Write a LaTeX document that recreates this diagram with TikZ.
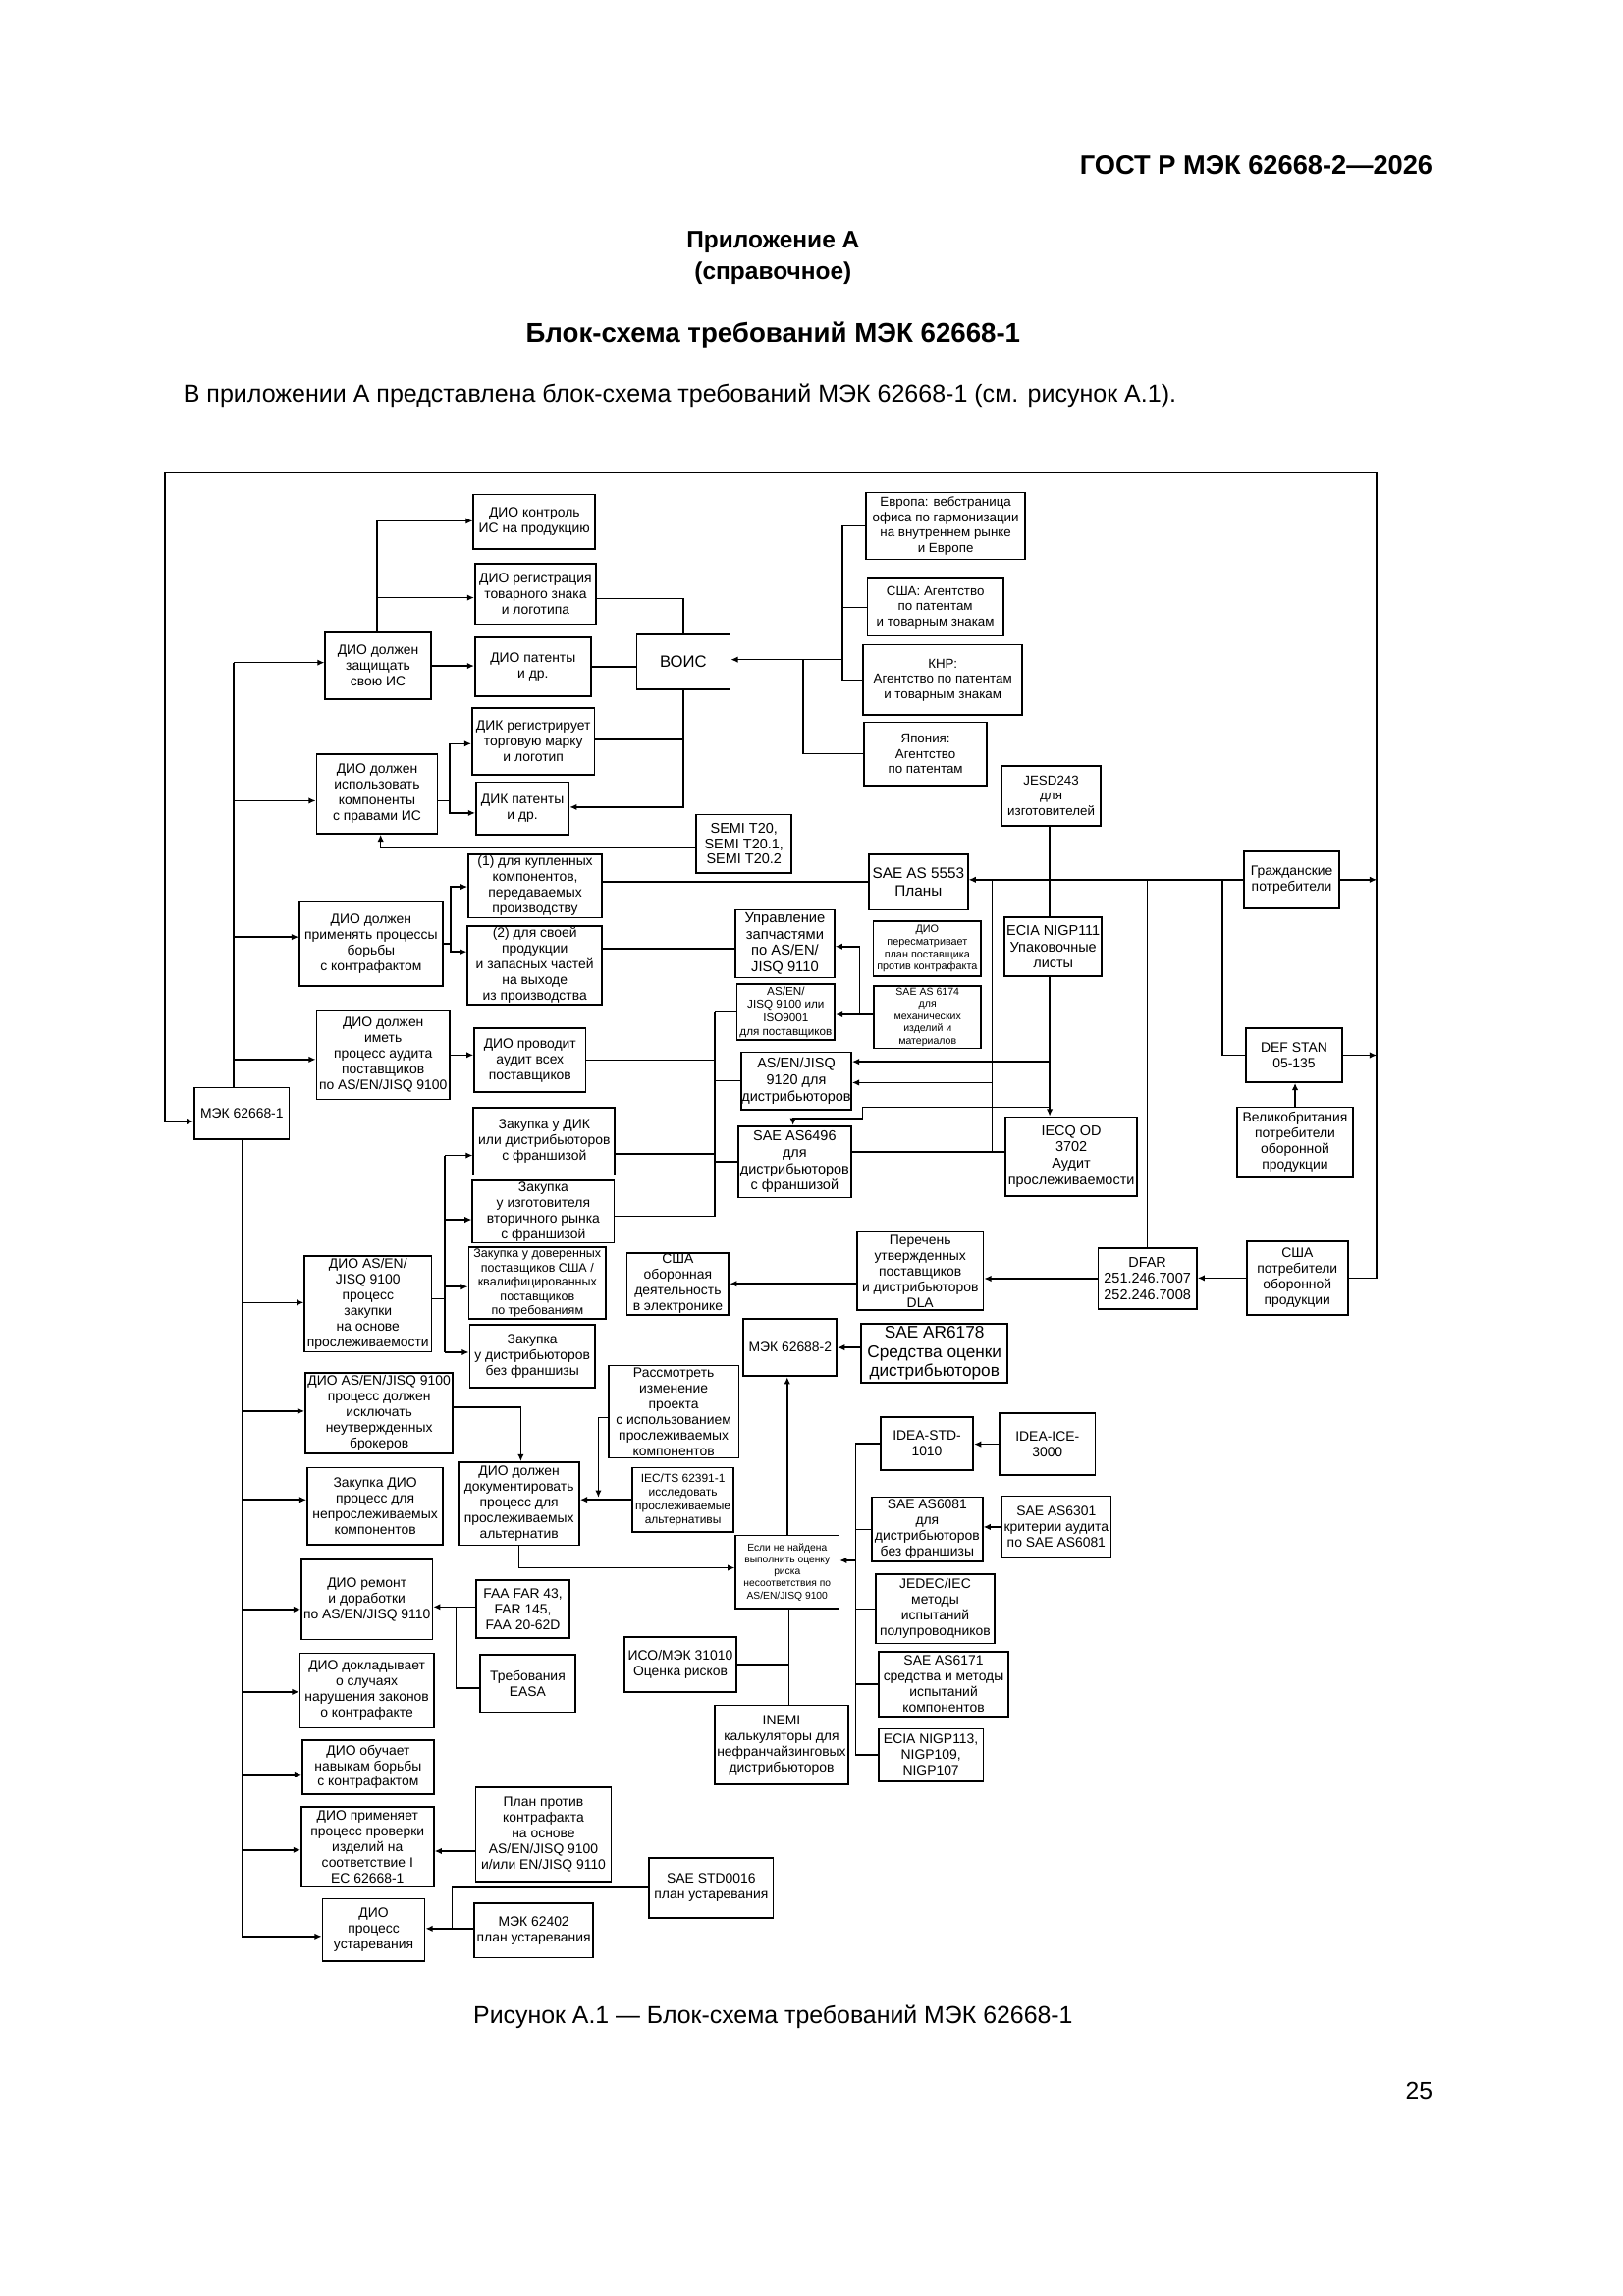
\documentclass[tikz,border=0pt]{standalone}
\usepackage{fontspec}
\setmainfont{Liberation Sans}
\usetikzlibrary{arrows.meta}
\newcommand\fs[2]{\fontsize{#1pt}{#2pt}\selectfont}
\newcommand\BX[7][]{\node[box,#1,minimum width={(#5-#3)*0.5405pt},minimum height={(#6-#4)*0.5405pt}] (#2) at ({(#3+#5)/2},{(#4+#6)/2}) {#7};}
\tikzset{
  box/.style={draw,line width=0.6pt,inner sep=0pt,align=center,font=\fs{5}{5.75}},
  ptxt/.style={inner sep=0pt,align=center},
  ln/.style={line width=0.55pt},
  arr/.style={ln,-{Latex[length=2.6pt,width=2.3pt]}},
}
\begin{document}
\begin{tikzpicture}[x=0.5405pt,y=-0.5405pt]
\useasboundingbox[fill=white] (0,0) rectangle (1100,1556);
% ---------- page texts
\node[ptxt,anchor=east,font=\bfseries\fs{9.8}{12}] (hdr) at (971.5,111.6) {ГОСТ Р МЭК 62668-2—2026};
\node[ptxt,font=\bfseries\fs{8.8}{11.4}] (app) at (524,175) {Приложение А\\(справочное)};
\node[ptxt,font=\bfseries\fs{9.95}{12}] (ttl) at (524,227) {Блок-схема требований МЭК 62668-1};
\node[ptxt,anchor=west,font=\fs{9}{11}] (intro) at (124,268) {В приложении А представлена блок-схема требований МЭК 62668-1 (см. рисунок А.1).};
\node[ptxt,font=\fs{8.95}{11}] (cap) at (524,1367) {Рисунок А.1 — Блок-схема требований МЭК 62668-1};
\node[ptxt,anchor=east,font=\fs{8.9}{11}] (pg) at (971.5,1417) {25};
% ---------- boxes
\BX{kontrol}{321}{335}{403.5}{372}{ДИО контроль\\ИС на продукцию}
\BX{regtz}{322}{382}{404}{423}{ДИО регистрация\\товарного знака\\и логотипа}
\BX{zashch}{220.5}{428.5}{292}{474}{ДИО должен\\защищать\\свою ИС}
\BX{patdio}{322}{432}{400.5}{472}{ДИО патенты\\и др.}
\BX[font=\fs{6}{7}]{vois}{431.5}{430}{494.8}{467}{ВОИС}
\BX{dikreg}{320}{480}{403}{525}{ДИК регистрирует\\торговую марку\\и логотип}
\BX{ispolz}{214.6}{511}{296.5}{565}{ДИО должен\\использовать\\компоненты\\с правами ИС}
\BX{dikpat}{322.7}{530}{385.6}{565.6}{ДИК патенты\\и др.}
\BX[font=\fs{4.8}{5.6}]{evropa}{587}{333.8}{695}{379}{Европа: вебстраница\\офиса по гармонизации\\на внутреннем рынке\\и Европе}
\BX[font=\fs{4.8}{5.6}]{usapat}{588}{392}{680}{431}{США: Агентство\\по патентам\\и товарным знакам}
\BX[font=\fs{4.8}{5.6}]{knr}{585}{437}{693}{484.6}{КНР:\\Агентство по патентам\\и товарным знакам}
\BX[font=\fs{4.8}{5.6}]{japan}{585.8}{489.5}{668.9}{532.3}{Япония:\\Агентство\\по патентам}
\BX[font=\fs{4.8}{5.6}]{jesd}{679}{519}{746}{559.6}{JESD243\\для\\изготовителей}
\BX[font=\fs{5.2}{5.6}]{semi}{472}{552}{536.6}{591.5}{SEMI T20,\\SEMI T20.1,\\SEMI T20.2}
\BX{kupl1}{317.5}{579}{408}{622}{(1) для купленных\\компонентов,\\передаваемых\\производству}
\BX{primen}{203}{611}{300}{668}{ДИО должен\\применять процессы\\борьбы\\с контрафактом}
\BX{svoi2}{317}{627.6}{408}{681}{(2) для своей\\продукции\\и запасных частей\\на выходе\\из производства}
\BX[font=\fs{5.5}{6.3}]{sae5553}{589}{579}{656}{616.5}{SAE AS 5553\\Планы}
\BX{grazhd}{843.3}{577}{907.8}{615.4}{Гражданские\\потребители}
\BX[font=\fs{5.3}{6}]{upr9110}{498.5}{616.5}{565.6}{662.5}{Управление\\запчастями\\по AS/EN/\\JISQ 9110}
\BX[font=\fs{3.9}{4.6}]{peresm}{592}{624.3}{665}{661.6}{ДИО\\пересматривает\\план поставщика\\против контрафакта}
\BX[font=\fs{5.2}{6}]{ecia111}{681}{621.6}{746.8}{661.6}{ECIA NIGP111\\Упаковочные\\листы}
\BX[font=\fs{4.2}{4.9}]{as9100}{499.5}{667}{565.8}{704.8}{AS/EN/\\JISQ 9100 или\\ISO9001\\для поставщиков}
\BX[font=\fs{3.8}{4.5}]{sae6174}{592.5}{668}{665}{710.4}{SAE AS 6174\\для\\механических\\изделий и\\материалов}
\BX{imet}{214.6}{685}{304.8}{745}{ДИО должен\\иметь\\процесс аудита\\поставщиков\\по AS/EN/JISQ 9100}
\BX{provodit}{321.5}{697}{397}{740}{ДИО проводит\\аудит всех\\поставщиков}
\BX[font=\fs{5.2}{6}]{as9120}{502.5}{713}{577}{752}{AS/EN/JISQ\\9120 для\\дистрибьюторов}
\BX{defstan}{844.6}{696.8}{909.7}{733.4}{DEF STAN\\05-135}
\BX{mek1}{131.9}{737}{196}{772}{МЭК 62668-1}
\BX{zakdik}{321}{750.7}{416.8}{796.3}{Закупка у ДИК\\или дистрибьюторов\\с франшизой}
\BX[font=\fs{5.2}{6}]{as6496}{500.3}{763.2}{577}{811.7}{SAE AS6496\\для\\дистрибьюторов\\с франшизой}
\BX[font=\fs{5.2}{6}]{iecq}{681.7}{757}{770.6}{810.4}{IECQ OD\\3702\\Аудит\\прослеживаемости}
\BX{gb}{838.5}{750.3}{917.2}{798}{Великобритания\\потребители\\оборонной\\продукции}
\BX{zakizg}{320.3}{800}{416.3}{842.3}{Закупка\\у изготовителя\\вторичного рынка\\с франшизой}
\BX{dio9100z}{206.5}{851}{292.4}{916}{ДИО AS/EN/\\JISQ 9100\\процесс\\закупки\\на основе\\прослеживаемости}
\BX[font=\fs{4.5}{5.2}]{zakdov}{317.7}{845.4}{410.8}{893.8}{Закупка у доверенных\\поставщиков США /\\квалифицированных\\поставщиков\\по требованиям}
\BX{usaob}{425}{849}{494}{891}{США\\оборонная\\деятельность\\в электронике}
\BX{perech}{581}{835}{666.5}{887.7}{Перечень\\утвержденных\\поставщиков\\и дистрибьюторов\\DLA}
\BX[font=\fs{5.2}{6}]{dfar}{744.3}{846}{811.2}{887}{DFAR\\251.246.7007\\252.246.7008}
\BX{usapotr}{845}{841.2}{913.7}{891}{США\\потребители\\оборонной\\продукции}
\BX{zakbez}{318.4}{898}{403.3}{940.3}{Закупка\\у дистрибьюторов\\без франшизы}
\BX{mek2}{504}{893.8}{567.2}{932.6}{МЭК 62688-2}
\BX[font=\fs{6.2}{7}]{ar6178}{583.8}{897}{683}{937}{SAE AR6178\\Средства оценки\\дистрибьюторов}
\BX{brokers}{207}{930.4}{307}{985.1}{ДИО AS/EN/JISQ 9100\\процесс должен\\исключать\\неутвержденных\\брокеров}
\BX{rassm}{412.6}{925.3}{500.7}{988}{Рассмотреть\\изменение\\проекта\\с использованием\\прослеживаемых\\компонентов}
\BX{ideastd}{596.8}{960.3}{659.7}{996.4}{IDEA-STD-\\1010}
\BX{ideaice}{677.6}{957.6}{742.3}{999.8}{IDEA-ICE-\\3000}
\BX{zakdio}{208.3}{994.7}{300.3}{1046.8}{Закупка ДИО\\процесс для\\непрослеживаемых\\компонентов}
\BX{dokum}{311}{990.9}{392.7}{1047.2}{ДИО должен\\документировать\\процесс для\\прослеживаемых\\альтернатив}
\BX[font=\fs{4.3}{5}]{iects}{428.7}{994.7}{497.2}{1038}{IEC/TS 62391-1\\исследовать\\прослеживаемые\\альтернативы}
\BX{as6081}{591}{1014.6}{666}{1058.3}{SAE AS6081\\для\\дистрибьюторов\\без франшизы}
\BX{as6301}{679}{1014}{753}{1055.7}{SAE AS6301\\критерии аудита\\по SAE AS6081}
\BX[font=\fs{3.7}{4.4}]{esli}{498.6}{1040.6}{568.6}{1090}{Если не найдена\\выполнить оценку\\риска\\несоответствия по\\AS/EN/JISQ 9100}
\BX{remont}{204.3}{1056.8}{293.1}{1111}{ДИО ремонт\\и доработки\\по AS/EN/JISQ 9110}
\BX{faa}{322.7}{1070.8}{386.2}{1110}{FAA FAR 43,\\FAR 145,\\FAA 20-62D}
\BX{jedec}{593.5}{1066.8}{674.3}{1113.8}{JEDEC/IEC\\методы\\испытаний\\полупроводников}
\BX{iso31010}{423.4}{1109.3}{499}{1146.6}{ИСО/МЭК 31010\\Оценка рисков}
\BX{dokl}{203.3}{1120.4}{294}{1171}{ДИО докладывает\\о случаях\\нарушения законов\\о контрафакте}
\BX{easa}{325.4}{1121.5}{390}{1160.3}{Требования\\EASA}
\BX{as6171}{595.5}{1119.3}{683.7}{1163.2}{SAE AS6171\\средства и методы\\испытаний\\компонентов}
\BX{inemi}{484.5}{1155.7}{575}{1209.2}{INEMI\\калькуляторы для\\нефранчайзинговых\\дистрибьюторов}
\BX{ecia113}{595.5}{1171.6}{666.5}{1207.1}{ECIA NIGP113,\\NIGP109,\\NIGP107}
\BX{obuch}{205}{1179.2}{294}{1215.8}{ДИО обучает\\навыкам борьбы\\с контрафактом}
\BX{primenyaet}{204.2}{1224.5}{294}{1278.6}{ДИО применяет\\процесс проверки\\изделий на\\соответствие I\\EC 62668-1}
\BX{plan}{322.4}{1211.1}{414.3}{1275.3}{План против\\контрафакта\\на основе\\AS/EN/JISQ 9100\\и/или EN/JISQ 9110}
\BX{std0016}{440}{1259}{524.2}{1299.6}{SAE STD0016\\план устаревания}
\BX{ustar}{218.6}{1286.8}{287.9}{1328.9}{ДИО\\процесс\\устаревания}
\BX{mek62402}{321.5}{1289.6}{402.1}{1326.7}{МЭК 62402\\план устаревания}
% ---------- frame loop (США потребители -> МЭК 62668-1)
\coordinate (FTL) at (111.7,320.5);
\coordinate (FTR) at (933.2,320.5);
\draw[arr] (usapotr.east) -- (usapotr.east -| FTR) -- (FTR) -- (FTL) -- (FTL |- 0,760) -- (mek1.west |- 0,760);
\draw[arr] (grazhd.east) -- (grazhd.east -| FTR);
\draw[arr] (defstan.east) -- (defstan.east -| FTR);
\draw[arr] (gb.north) -- (gb.north |- defstan.south);
\draw[arr] (grazhd.west) -- (sae5553.east |- grazhd.west);
\draw[ln] (grazhd.west -| 828.4,0) -- (defstan.west -| 828.4,0) -- (defstan.west);
\draw[ln] (dfar.north) -- (dfar.north |- grazhd.west);
\draw[arr] (usapotr.west) -- (dfar.east |- usapotr.west);
\draw[arr] (dfar.west) -- (perech.east |- dfar.west);
\draw[arr] (perech.west |- usaob.east) -- (usaob.east);
% ---------- middle right
\draw[ln] (grazhd.west -| 672.5,0) -- (672.5,780.5);
\draw[arr] (672.5,733.7) -- (as9120.east |- 0,733.7);
\draw[ln] (as6496.east |- 0,780.5) -- (iecq.west |- 0,780.5);
\draw[ln] (jesd.south -| 711.5,0) -- (ecia111.north -| 711.5,0);
\draw[arr] (ecia111.south -| 711.5,0) -- (iecq.north -| 711.5,0);
\draw[arr] (711.5,719.5) -- (as9120.east |- 0,719.5);
\draw[arr] (711.5,750.5) -- (584.5,750.5) -- (584.5,758) -- (537.5,758) -- (as6496.north -| 537.5,0);
\draw[ln] (sae6174.west |- 0,687.5) -- (582.7,687.5);
\draw[arr] (582.7,687.5) -- (as9100.east |- 0,687.5);
\draw[arr] (582.7,687.5) -- (582.7,641.4) -- (upr9110.east |- 0,641.4);
\draw[ln] (svoi2.east |- 0,643) -- (upr9110.west |- 0,643);
\draw[ln] (kupl1.east |- sae5553.west) -- (sae5553.west);
% bus x=484.4
\draw[ln] (484.4,686) -- (484.4,824.4);
\draw[ln] (as9100.west) -- (as9100.west -| 484.4,0);
\draw[ln] (provodit.east) -- (provodit.east -| 484.4,0);
\draw[ln] (as9120.west) -- (as9120.west -| 484.4,0);
\draw[ln] (zakdik.east |- 0,782) -- (484.4,782);
\draw[ln] (as6496.west) -- (as6496.west -| 484.4,0);
\draw[ln] (zakizg.east |- 0,824.4) -- (484.4,824.4);
% ---------- top cluster
\draw[arr] (semi.west |- 0,574.5) -- (258,574.5) -- (ispolz.south -| 258,0);
\draw[ln] (ispolz.east |- 0,542.7) -- (304.7,542.7);
\draw[arr] (304.7,542.7) -- (304.7,504) -- (dikreg.west |- 0,504);
\draw[arr] (304.7,542.7) -- (304.7,551) -- (dikpat.west |- 0,551);
\draw[arr] (vois.south) -- (vois.south |- 0,547) -- (dikpat.east |- 0,547);
\draw[ln] (dikreg.east |- 0,501) -- (vois.south |- 0,501);
\draw[ln] (regtz.east |- 0,405.5) -- (vois.north |- 0,405.5) -- (vois.north);
\draw[ln] (patdio.east) -- (vois.west |- patdio.east);
\draw[arr] (571,447) -- (vois.east |- 0,447);
\draw[ln] (evropa.west) -- (evropa.west -| 571,0) -- (knr.west -| 571,0) -- (knr.west);
\draw[ln] (usapat.west) -- (usapat.west -| 571,0);
\draw[ln] (544.5,447) -- (japan.west -| 544.5,0) -- (japan.west);
\draw[ln] (zashch.north -| 255.5,0) -- (255.5,353);
\draw[arr] (255.5,353) -- (kontrol.west |- 0,353);
\draw[arr] (255.5,405) -- (regtz.west |- 0,405);
\draw[arr] (zashch.east) -- (patdio.west |- zashch.east);
% ---------- upper trunk
\draw[ln] (158.3,449) -- (mek1.north -| 158.3,0);
\draw[arr] (158.3,449) -- (zashch.west |- 0,449);
\draw[arr] (158.3,542.7) -- (ispolz.west |- 0,542.7);
\draw[arr] (158.3,635) -- (primen.west |- 0,635);
\draw[arr] (158.3,718) -- (imet.west |- 0,718);
\draw[ln] (primen.east) -- (primen.east -| 305.5,0);
\draw[arr] (305.5,639.5) -- (305.5,601) -- (kupl1.west |- 0,601);
\draw[arr] (305.5,639.5) -- (305.5,645) -- (svoi2.west |- 0,645);
\draw[arr] (imet.east) -- (provodit.west |- imet.east);
% ---------- lower trunk
\draw[ln] (mek1.south -| 164,0) -- (164,1312.3);
\foreach \yy/\nn in {882.7/dio9100z,956.3/brokers,1016.4/zakdio,1090.7/remont,1146.6/dokl,1202.5/obuch,1253.7/primenyaet,1312.3/ustar}
  \draw[arr] (164,\yy) -- (\nn.west |- 0,\yy);
\draw[ln] (dio9100z.east |- 0,880) -- (301.4,880);
\draw[ln] (301.4,783) -- (301.4,916.4);
\foreach \yy/\nn in {783/zakdik,826.6/zakizg,872/zakdov,916.4/zakbez}
  \draw[arr] (301.4,\yy) -- (\nn.west |- 0,\yy);
\draw[arr] (brokers.east |- 0,953.6) -- (353,953.6) -- (dokum.north -| 353,0);
\draw[arr] (rassm.west |- 0,960.7) -- (405.6,960.7) -- (405.6,1014.8);
\draw[arr] (iects.west) -- (dokum.east |- iects.west);
\draw[arr] (dokum.south -| 351.6,0) -- (351.6,1062.5) -- (esli.west |- 0,1062.5);
\draw[arr] (esli.north) -- (esli.north |- mek2.south);
\draw[arr] (ar6178.west |- mek2.east) -- (mek2.east);
\draw[ln] (esli.south -| 534.6,0) -- (inemi.north -| 534.6,0);
\draw[ln] (iso31010.east) -- (iso31010.east -| 534.6,0);
\draw[ln] (ideastd.west) -- (ideastd.west -| 580,0) -- (ecia113.west -| 580,0) -- (ecia113.west);
\draw[ln] (as6081.west) -- (as6081.west -| 580,0);
\draw[ln] (jedec.west) -- (jedec.west -| 580,0);
\draw[ln] (as6171.west) -- (as6171.west -| 580,0);
\draw[arr] (580,1057.5) -- (esli.east |- 0,1057.5);
\draw[arr] (ideaice.west) -- (ideastd.east |- ideaice.west);
\draw[arr] (as6301.west) -- (as6081.east |- as6301.west);
\draw[arr] (faa.west |- 0,1089) -- (remont.east |- 0,1089);
\draw[ln] (309,1089) -- (309,1144) -- (easa.west |- 0,1144);
\draw[arr] (plan.west |- 0,1254.5) -- (primenyaet.east |- 0,1254.5);
\draw[arr] (std0016.west) -- (std0016.west -| 306.5,0) -- (306.5,1307) -- (ustar.east |- 0,1307);
\draw[ln] (mek62402.west |- 0,1307) -- (306.5,1307);
\end{tikzpicture}
\end{document}
